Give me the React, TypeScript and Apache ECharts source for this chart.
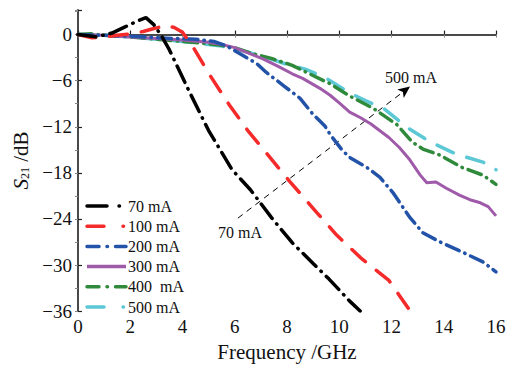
import React, { useEffect, useRef } from "react";
import * as echarts from "echarts";

const seriesNames = ["70 mA", "100 mA", "200 mA", "300 mA", "400  mA", "500 mA"];
const seriesColors = ["#000000", "#f52a2a", "#2353a8", "#a05aaa", "#2f8a3c", "#5cc8d6"];

const freq70 = [0, 0.7, 1.3, 1.8, 2.3, 2.6, 2.9, 3.2, 3.5, 4.2, 5.0, 5.9, 6.6, 7.4, 8.2, 9.0, 9.6, 10.4, 10.8];
const s70 = [0, -0.3, 0.2, 1.0, 1.8, 2.2, 1.3, -0.2, -2.0, -7.0, -12.5, -17.6, -20.2, -23.8, -27.1, -29.8, -31.8, -34.7, -36];

const freq100 = [0, 0.5, 1.0, 1.5, 2.0, 2.5, 2.8, 3.4, 3.7, 4.0, 4.4, 5.05, 5.8, 6.5, 7.3, 8.1, 9.15, 9.9, 10.8, 11.9, 12.7];
const s100 = [0, -0.4, -0.3, -0.1, 0.1, 0.4, 0.7, 1.2, 0.9, 0.3, -1.6, -5.3, -9.2, -12.5, -15.8, -19.1, -23.2, -26.1, -29.0, -32.0, -35.9];

const freq200 = [0, 1, 2, 3, 3.6, 4.5, 5.2, 5.7, 6.3, 6.85, 7.2, 7.85, 8.5, 9.0, 9.45, 9.65, 10.1, 10.4, 11.06, 11.56, 12.06, 12.7, 13.2, 13.86, 14.7, 15.5, 16];
const s200 = [0, -0.1, -0.2, -0.4, -0.5, -0.6, -0.9, -1.5, -2.7, -3.8, -4.9, -6.6, -8.3, -10.4, -11.9, -13.0, -15.0, -16.0, -17.3, -18.6, -20.6, -23.8, -25.8, -27.0, -28.3, -29.6, -30.9];

const freq300 = [0, 1, 2, 3, 4, 5, 5.5, 6, 6.6, 7.1, 7.7, 8.2, 8.6, 9.26, 9.65, 10.0, 10.4, 10.8, 11.2, 11.9, 12.3, 12.7, 13.1, 13.35, 13.7, 14.1, 14.6, 15.0, 15.4, 15.7, 16];
const s300 = [0, -0.1, -0.3, -0.5, -0.7, -1.0, -1.3, -1.7, -2.5, -3.2, -4.2, -5.1, -5.7, -7.0, -7.9, -8.9, -10.1, -10.8, -11.6, -13.4, -14.7, -16.3, -18.3, -19.3, -19.2, -20.0, -20.9, -21.5, -21.9, -22.4, -23.6];

const freq400 = [0, 0.5, 1, 2, 3, 4, 5, 5.5, 6, 6.6, 7.4, 8.2, 8.8, 9.65, 10.4, 11.3, 12.2, 12.8, 13.2, 13.86, 14.7, 15.5, 16];
const s400 = [0, 0.1, -0.1, -0.3, -0.6, -0.9, -1.2, -1.4, -1.7, -2.4, -3.1, -4.0, -5.0, -6.4, -8.0, -9.6, -11.7, -14.0, -14.9, -15.7, -17.3, -18.3, -19.5];

const freq500 = [0, 1, 2, 3, 4, 5, 5.5, 6, 6.6, 7.4, 8.1, 8.7, 9.4, 9.65, 10.4, 11.0, 11.7, 12.6, 13.5, 14.5, 15.5, 16];
const s500 = [0, -0.1, -0.3, -0.6, -0.9, -1.3, -1.5, -1.8, -2.4, -3.2, -4.0, -4.5, -5.5, -6.0, -7.6, -8.6, -9.6, -12.1, -14.0, -15.6, -16.6, -17.6];

const xTicks = [0, 2, 4, 6, 8, 10, 12, 14, 16];
const yTicks = [-36, -30, -24, -18, -12, -6, 0];

const arrowStart = [6.12, -23.9];
const arrowEnd = [12.71, -6.77];
const arrowLabels = ["70 mA", "500 mA"];

const freqs = [freq70, freq100, freq200, freq300, freq400, freq500];
const values = [s70, s100, s200, s300, s400, s500];
const dashes: any[] = [
  [18, 7, 0.5, 7],
  [18, 14],
  [14, 6, 0.5, 6],
  null,
  [14, 6, 0.5, 6],
  [18, 14],
];
const legendDashes: any[] = [
  [20, 12, 0.5, 20],
  [17, 19, 0.5, 20],
  [12, 8, 0.5, 8, 14, 10],
  null,
  [12, 8, 0.5, 8, 14, 10],
  [17, 19, 0.5, 20],
];

const FONT = "'Liberation Serif', 'DejaVu Serif', serif";

export default function App() {
  const ref = useRef<HTMLDivElement>(null);
  useEffect(() => {
    if (!ref.current) return;
    const chart = echarts.init(ref.current, undefined, { renderer: "svg" });
    const fmt = (v: number) => (v % 6 === 0 ? String(v).replace("-", "\u2212") : "");
    const series: any[] = seriesNames.map((name, i) => ({
      name,
      type: "line",
      symbol: "none",
      data: freqs[i].map((f, j) => [f, values[i][j]]),
      lineStyle: {
        color: seriesColors[i],
        width: i === 3 ? 3 : 3.5,
        type: dashes[i] || "solid",
        cap: i === 3 ? "butt" : "round",
      },
      itemStyle: { color: seriesColors[i] },
      z: 10 - i,
    }));
    series[0].markLine = {
      silent: true,
      symbol: ["none", "arrow"],
      symbolSize: [8, 12],
      label: { show: false },
      lineStyle: { color: "#000", width: 1, type: [6, 5] },
      data: [[{ coord: arrowStart }, { coord: arrowEnd }]],
    };
    const legendGraphics: any[] = [];
    seriesNames.forEach((name, i) => {
      const y = 206 + i * 20.2;
      legendGraphics.push({
        type: "line",
        shape: { x1: 87, y1: y, x2: 126, y2: y },
        style: {
          stroke: seriesColors[i],
          lineWidth: 3.5,
          lineDash: legendDashes[i] || null,
          lineCap: i === 3 ? "butt" : "round",
        },
        z: 20,
      });
      legendGraphics.push({
        type: "text",
        x: 128,
        y: y,
        style: { text: name, fontFamily: FONT, fontSize: 16, fill: "#111", align: "left", verticalAlign: "middle" },
        z: 20,
      });
    });
    chart.setOption({
      animation: false,
      grid: { left: 78, right: 13, top: 10, bottom: 49 },
      xAxis: [
        {
          type: "value",
          min: xTicks[0],
          max: xTicks[xTicks.length - 1],
          interval: 2,
          name: "Frequency /GHz",
          nameLocation: "middle",
          nameGap: 28,
          nameTextStyle: { fontFamily: FONT, fontSize: 21, color: "#111" },
          axisLine: { lineStyle: { color: "#222", width: 1.5 } },
          axisTick: { inside: true, length: 4, lineStyle: { color: "#222", width: 1.2 } },
          axisLabel: { fontFamily: FONT, fontSize: 19, color: "#111", margin: 6 },
          splitLine: { show: false },
        },
        {
          type: "value",
          position: "top",
          min: 0,
          max: 16,
          interval: 2,
          axisLine: { show: true, lineStyle: { color: "#444", width: 1.5 } },
          axisTick: { inside: true, length: 3, lineStyle: { color: "#888" } },
          axisLabel: { show: false },
          splitLine: { show: false },
        },
      ],
      yAxis: [
        {
          type: "value",
          min: yTicks[0],
          max: 3.2,
          interval: 6,
          name: "{i|S}{sub|21} /dB",
          nameLocation: "middle",
          nameGap: 46,
          nameRotate: 90,
          nameTextStyle: {
            fontFamily: FONT,
            fontSize: 21,
            color: "#111",
            rich: {
              i: { fontFamily: FONT, fontSize: 21, fontStyle: "italic", color: "#111" },
              sub: { fontFamily: FONT, fontSize: 12, color: "#111", verticalAlign: "bottom", padding: [8, 0, 0, 0] },
            },
          },
          axisLine: { show: true, lineStyle: { color: "#222", width: 1.5 } },
          axisTick: { inside: true, length: 4, lineStyle: { color: "#222", width: 1.2 } },
          axisLabel: { fontFamily: FONT, fontSize: 19, color: "#111", margin: 6, formatter: fmt },
          splitLine: { show: false },
        },
        {
          type: "value",
          position: "right",
          min: -36,
          max: 3.2,
          interval: 3,
          axisLine: { show: true, lineStyle: { color: "#444", width: 1.5 } },
          axisTick: { inside: true, length: 3, lineStyle: { color: "#888" } },
          axisLabel: { show: false },
          splitLine: { show: false },
        },
      ],
      graphic: [
        {
          type: "text",
          x: 240,
          y: 232,
          style: { text: arrowLabels[0], fontFamily: FONT, fontSize: 16, fill: "#111", align: "center", verticalAlign: "middle" },
        },
        {
          type: "text",
          x: 411,
          y: 77,
          style: { text: arrowLabels[1], fontFamily: FONT, fontSize: 16, fill: "#111", align: "center", verticalAlign: "middle" },
        },
        ...legendGraphics,
      ],
      series,
    });
    return () => chart.dispose();
  }, []);
  return (
    <div
      ref={ref}
      style={{ position: "absolute", left: 0, top: 0, width: 509, height: 367, background: "#fff" }}
    />
  );
}
